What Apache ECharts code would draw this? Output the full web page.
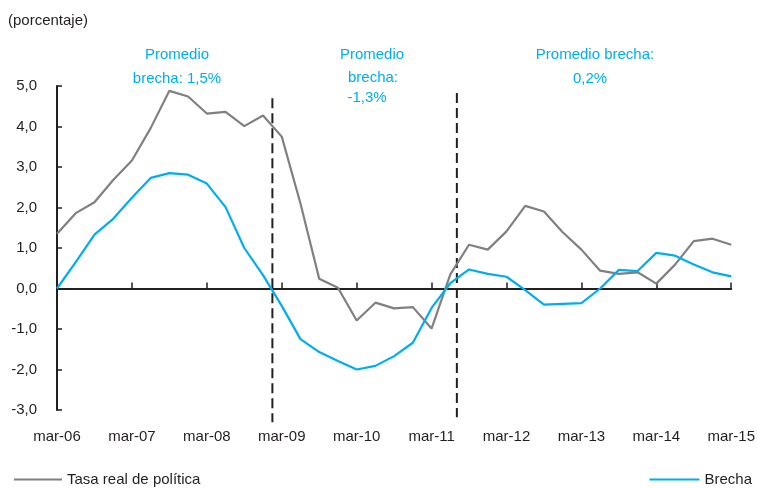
<!DOCTYPE html>
<html>
<head>
<meta charset="utf-8">
<script src="https://cdn.jsdelivr.net/npm/echarts@6/dist/echarts.min.js"></script>
<style>
  html, body { margin: 0; padding: 0; background: #fff; }
  #chart { width: 758px; height: 488px; }
</style>
</head>
<body>
<div id="chart"></div>
<script>
// trimestral, mar-06 .. mar-15 (37 puntos)
var tickLabels = ['mar-06', 'mar-07', 'mar-08', 'mar-09', 'mar-10', 'mar-11', 'mar-12', 'mar-13', 'mar-14', 'mar-15'];

var tasaReal = [1.35, 1.86, 2.13, 2.68, 3.16, 3.96, 4.88, 4.74, 4.32, 4.36, 4.01, 4.27, 3.75, 2.10,
  0.24, 0.02, -0.79, -0.35, -0.49, -0.46, -0.99, 0.35, 1.08, 0.96, 1.41, 2.04, 1.90, 1.39,
  0.96, 0.44, 0.36, 0.40, 0.12, 0.59, 1.17, 1.23, 1.08];

var brecha = [0.00, 0.65, 1.33, 1.72, 2.24, 2.73, 2.85, 2.81, 2.59, 2.01, 1.00, 0.33, -0.43, -1.25,
  -1.57, -1.79, -2.00, -1.91, -1.67, -1.34, -0.48, 0.13, 0.47, 0.36, 0.29, -0.04, -0.40, -0.38,
  -0.36, 0.00, 0.46, 0.43, 0.88, 0.81, 0.59, 0.40, 0.30];

// lineas divisorias: [trimestre, y arriba, y abajo]
var dividers = [[11.5, 4.70, -3.30], [21.35, 4.83, -3.18]];

var BLUE = '#00aeef', GRAY = '#808080', INK = '#231f20';
var FONT = '"Liberation Sans", Arial, sans-serif';

function pts(arr) {
    return arr.map(function (v, i) { return [i, v]; });
}

function txt(s, x, y, color) {
    return {
        type: 'text', x: x, y: y, silent: true,
        style: { text: s, fill: color || BLUE, font: '15px ' + FONT, textAlign: 'center', textVerticalAlign: 'middle' }
    };
}

var chart = echarts.init(document.getElementById('chart'));

chart.setOption({
    animation: false,
    textStyle: { fontFamily: FONT },
    grid: { left: 57, right: 23, top: 86, bottom: 78 },
    legend: [
        { data: ['Tasa real de política'], left: 9, top: 467, icon: 'rect', itemWidth: 48, itemHeight: 2,
          textStyle: { fontSize: 15, color: INK } },
        { data: ['Brecha'], right: 1, top: 467, icon: 'rect', itemWidth: 50, itemHeight: 2,
          textStyle: { fontSize: 15, color: INK } }
    ],
    graphic: [
        { type: 'text', left: 8, top: 13, silent: true,
          style: { text: '(porcentaje)', fill: INK, font: '15px ' + FONT } },
        txt('Promedio', 177, 55),
        txt('brecha: 1,5%', 177, 79),
        txt('Promedio', 372, 55),
        txt('brecha:', 373, 78),
        txt('-1,3%', 367, 98),
        txt('Promedio brecha:', 595, 55),
        txt('0,2%', 590, 79)
    ],
    xAxis: [
        {
            type: 'value', min: 0, max: 36, interval: 4, position: 'bottom',
            axisLine: { show: true, onZero: true, lineStyle: { color: INK, width: 2 } },
            axisTick: { show: true, inside: true, length: 6, lineStyle: { color: INK, width: 1.5 } },
            axisLabel: { show: false },
            splitLine: { show: false }
        },
        {
            type: 'value', min: 0, max: 36, interval: 4, position: 'bottom',
            axisLine: { show: false, onZero: false },
            axisTick: { show: false },
            axisLabel: { margin: 19, fontSize: 15, color: INK,
                formatter: function (v) { return tickLabels[v / 4]; } },
            splitLine: { show: false }
        }
    ],
    yAxis: {
        type: 'value', min: -3, max: 5, interval: 1,
        axisLine: { show: true, lineStyle: { color: INK, width: 2 } },
        axisTick: { show: true, inside: true, length: 5, lineStyle: { color: INK, width: 1.5 } },
        axisLabel: { margin: 20, fontSize: 15, color: INK,
            formatter: function (v) { return v.toFixed(1).replace('.', ','); } },
        splitLine: { show: false }
    },
    series: [
        {
            name: 'dividers', type: 'custom', clip: false, silent: true, z: 1,
            data: dividers,
            encode: { x: 0, y: [1, 2] },
            renderItem: function (params, api) {
                var a = api.coord([api.value(0), api.value(1)]);
                var b = api.coord([api.value(0), api.value(2)]);
                return { type: 'line', shape: { x1: a[0], y1: a[1], x2: b[0], y2: b[1] },
                    style: { stroke: INK, lineWidth: 2, lineDash: [10, 5] } };
            }
        },
        {
            name: 'Tasa real de política', type: 'line', data: pts(tasaReal),
            showSymbol: false, symbol: 'none', z: 3,
            lineStyle: { color: GRAY, width: 2.2 }, itemStyle: { color: GRAY }
        },
        {
            name: 'Brecha', type: 'line', data: pts(brecha),
            showSymbol: false, symbol: 'none', z: 4,
            lineStyle: { color: BLUE, width: 2.2 }, itemStyle: { color: BLUE }
        }
    ]
});
</script>
</body>
</html>
